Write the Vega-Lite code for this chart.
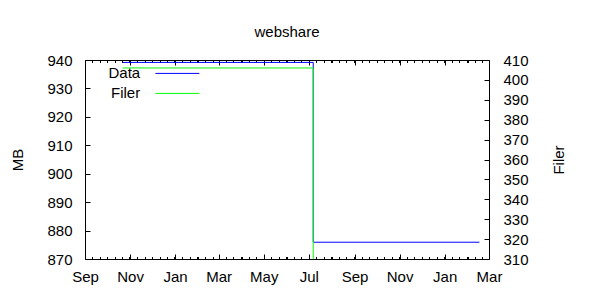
{
  "$schema": "https://vega.github.io/schema/vega-lite/v6.json",
  "autosize": "none",
  "width": 404,
  "height": 199,
  "padding": {"left": 85, "top": 60, "right": 111, "bottom": 41},
  "background": "white",
  "config": {
    "font": "Liberation Sans",
    "view": {"stroke": "black", "strokeWidth": 1},
    "axis": {"labelFont": "Liberation Sans", "titleFont": "Liberation Sans", "labelFontSize": 15, "titleFontSize": 15, "titleFontWeight": "normal", "labelColor": "black", "titleColor": "black", "tickColor": "black", "domain": false, "grid": false}
  },
  "title": {"text": "webshare", "fontSize": 15, "fontWeight": "normal", "font": "Liberation Sans", "color": "black", "anchor": "middle", "offset": 13},
  "data": {
    "values": [
      {"series": "Data", "date": "2010-10-22", "value": 939.15, "i": 1},
      {"series": "Data", "date": "2011-07-07", "value": 939.15, "i": 2},
      {"series": "Data", "date": "2011-07-07", "value": 875.9, "i": 3},
      {"series": "Data", "date": "2012-02-17", "value": 875.9, "i": 4},
      {"series": "Filer", "date": "2010-10-22", "value": 406.0, "i": 1},
      {"series": "Filer", "date": "2011-07-07", "value": 406.0, "i": 2},
      {"series": "Filer", "date": "2011-07-07", "value": 0, "i": 3}
    ]
  },
  "layer": [
    {
      "transform": [{"filter": "datum.series == 'Data'"}],
      "mark": {"type": "line", "strokeWidth": 1, "clip": true},
      "encoding": {
        "x": {"field": "date", "type": "temporal", "scale": {"type": "utc", "domain": ["2010-09-01", "2012-03-01"], "nice": false},
          "axis": {"orient": "bottom", "title": null, "tickCount": {"interval": "day", "step": 10}, "labelOverlap": false, "labelFlush": false, "labelPadding": 15,
            "labelExpr": "utcdate(datum.value) == 1 && utcmonth(datum.value) % 2 == 0 ? utcFormat(datum.value, '%b') : ''",
            "tickSize": {"condition": {"test": "utcdate(datum.value) == 1 && utcmonth(datum.value) % 2 == 0", "value": -5}, "value": -2.5}}},
        "y": {"field": "value", "type": "quantitative", "scale": {"domain": [870, 940], "nice": false, "zero": false},
          "axis": {"orient": "left", "title": "MB", "values": [870, 880, 890, 900, 910, 920, 930, 940], "tickSize": -5, "labelPadding": 18, "titlePadding": 21}},
        "color": {"field": "series", "type": "nominal", "scale": {"domain": ["Data", "Filer"], "range": ["#0000ff", "#00ff00"]},
          "legend": {"title": null, "orient": "none", "legendX": 67.3, "legendY": 5.9, "padding": 0, "symbolType": "M-1,0H9", "symbolSize": 77.44, "symbolStrokeWidth": 1, "symbolFillColor": "transparent", "labelAlign": "right", "labelOffset": -27.1, "labelFontSize": 15, "labelFont": "Liberation Sans", "labelColor": "black", "rowPadding": 4}},
        "order": {"field": "i", "type": "quantitative"}
      }
    },
    {
      "transform": [{"filter": "datum.series == 'Filer'"}],
      "mark": {"type": "line", "strokeWidth": 1, "clip": true},
      "encoding": {
        "x": {"field": "date", "type": "temporal",
          "axis": {"orient": "top", "title": null, "labels": false, "tickCount": {"interval": "day", "step": 10},
            "tickSize": {"condition": {"test": "utcdate(datum.value) == 1 && utcmonth(datum.value) % 2 == 0", "value": -5}, "value": -2.5}}},
        "y": {"field": "value", "type": "quantitative", "scale": {"domain": [310, 410], "nice": false, "zero": false},
          "axis": {"orient": "right", "title": "Filer", "titleAngle": -90, "values": [310, 320, 330, 340, 350, 360, 370, 380, 390, 400, 410], "tickSize": -5, "labelPadding": 19, "titlePadding": 38}},
        "color": {"field": "series", "type": "nominal"},
        "order": {"field": "i", "type": "quantitative"}
      }
    }
  ],
  "resolve": {"scale": {"y": "independent"}}
}
